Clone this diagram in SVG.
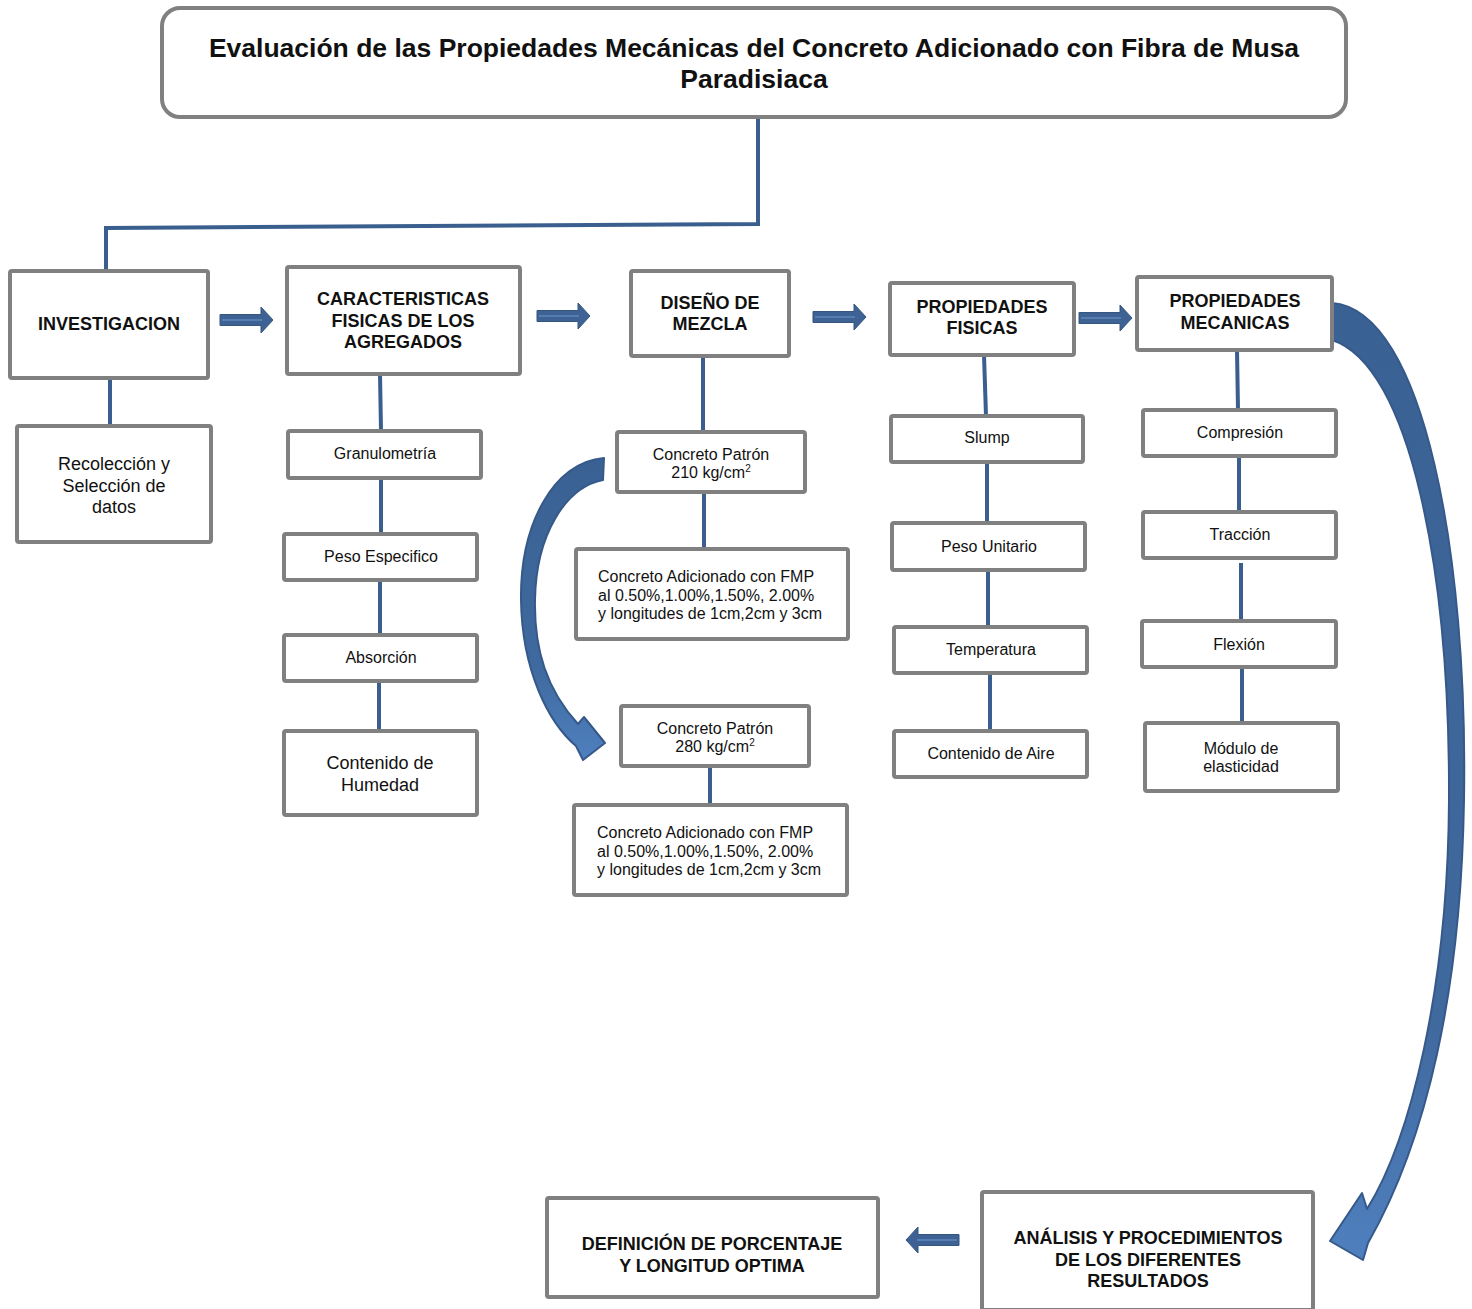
<svg xmlns="http://www.w3.org/2000/svg" xmlns:xlink="http://www.w3.org/1999/xlink" width="1472" height="1309" viewBox="0 0 1472 1309">
<style>
.box{fill:#fff;stroke:#808080;stroke-width:4}
.t{font-family:"Liberation Sans",Arial,sans-serif;fill:#111;text-anchor:middle}
.b18{font-size:18px;font-weight:bold}
.r18{font-size:18px}
.r16{font-size:16px}
.ttl{font-size:26.5px;font-weight:bold}
.l{text-anchor:start}
.con{fill:none;stroke:#3A5F8F;stroke-width:4}
.ba{fill:#3D6293;stroke:#34567F;stroke-width:1}
.bl{fill:none;stroke:#6F98CC;stroke-width:1.2}
.sup{font-size:10px}
</style>
<defs>
<path id="barrow" d="M0 -5.5 H41 V-13 L53 0 L41 13 V5.5 H0 Z"/>
<linearGradient id="g1" x1="0" y1="0" x2="0" y2="1">
<stop offset="0" stop-color="#3A6193"/>
<stop offset="0.7" stop-color="#3F6A9F"/>
<stop offset="1" stop-color="#4F80BE"/>
</linearGradient>
<linearGradient id="g2" x1="0" y1="0" x2="0" y2="1">
<stop offset="0" stop-color="#3A6193"/>
<stop offset="0.75" stop-color="#40699E"/>
<stop offset="1" stop-color="#4F80BE"/>
</linearGradient>
</defs>

<g id="connectors">
<path class="con" d="M758 117 V224 L106 228 V271"/>
<path class="con" d="M110 378 V426"/>
<path class="con" d="M380 374 L381 431"/>
<path class="con" d="M381 478 V534"/>
<path class="con" d="M380 580 V635"/>
<path class="con" d="M379 681 V731"/>
<path class="con" d="M703 356 V432"/>
<path class="con" d="M704 492 V549"/>
<path class="con" d="M710 766 V805"/>
<path class="con" d="M984 355 L986 416"/>
<path class="con" d="M987 462 V523"/>
<path class="con" d="M988 570 V627"/>
<path class="con" d="M990 673 V731"/>
<path class="con" d="M1237 350 L1238 410"/>
<path class="con" d="M1239 456 V512"/>
<path class="con" d="M1241 563 V621"/>
<path class="con" d="M1242 667 V723"/>
<g id="block-arrows">
<use href="#barrow" xlink:href="#barrow" class="ba" transform="translate(220 320)"/>
<path class="bl" d="M222 320 H262"/>
<use href="#barrow" xlink:href="#barrow" class="ba" transform="translate(537 316)"/>
<path class="bl" d="M539 316 H579"/>
<use href="#barrow" xlink:href="#barrow" class="ba" transform="translate(813 317)"/>
<path class="bl" d="M815 317 H855"/>
<use href="#barrow" xlink:href="#barrow" class="ba" transform="translate(1079 318)"/>
<path class="bl" d="M1081 318 H1121"/>
<use href="#barrow" xlink:href="#barrow" class="ba" transform="translate(959 1240) scale(-1 1)"/>
<path class="bl" d="M957 1240 H917"/>
</g>
<path id="curve-left" d="M604 458 C553 462 520 525 521 600 C522 670 548 722 576 746 L583 760 L605 743 L584 717 L578 724 C547 690 534 650 535 600 C536 534 566 487 603 480 Z" fill="url(#g1)" stroke="#36598A" stroke-width="2" stroke-linejoin="round"/>
<path id="curve-right" d="M1332 303 C1425 310 1468 560 1464 800 C1461 990 1427 1140 1368 1243 L1363 1260 L1330 1241 L1362 1193 L1367 1209 C1410 1140 1448 990 1449 800 C1450 570 1410 365 1332 340 Z" fill="url(#g2)" stroke="#36598A" stroke-width="2" stroke-linejoin="round"/>
</g>

<g id="title">
<rect class="box" x="162" y="8" width="1184" height="109" rx="18"/>
<text class="t ttl" x="754" y="57">Evaluación de las Propiedades Mecánicas del Concreto Adicionado con Fibra de Musa</text>
<text class="t ttl" x="754" y="88">Paradisiaca</text>
</g>

<g id="investigacion">
<rect class="box" x="10" y="271" width="198" height="107" rx="2"/>
<text class="t b18" x="109" y="330">INVESTIGACION</text>
</g>
<g id="recoleccion">
<rect class="box" x="17" y="426" width="194" height="116" rx="2"/>
<text class="t r18" x="114" y="470">Recolección y</text>
<text class="t r18" x="114" y="492">Selección de</text>
<text class="t r18" x="114" y="513">datos</text>
</g>

<g id="caracteristicas">
<rect class="box" x="287" y="267" width="233" height="107" rx="2"/>
<text class="t b18" x="403" y="305">CARACTERISTICAS</text>
<text class="t b18" x="403" y="327">FISICAS DE LOS</text>
<text class="t b18" x="403" y="348">AGREGADOS</text>
</g>
<g id="granulometria">
<rect class="box" x="288" y="431" width="193" height="47" rx="2"/>
<text class="t r16" x="385" y="459">Granulometría</text>
</g>
<g id="peso-especifico">
<rect class="box" x="284" y="534" width="193" height="46" rx="2"/>
<text class="t r16" x="381" y="562">Peso Especifico</text>
</g>
<g id="absorcion">
<rect class="box" x="284" y="635" width="193" height="46" rx="2"/>
<text class="t r16" x="381" y="663">Absorción</text>
</g>
<g id="humedad">
<rect class="box" x="284" y="731" width="193" height="84" rx="2"/>
<text class="t r18" x="380" y="769">Contenido de</text>
<text class="t r18" x="380" y="791">Humedad</text>
</g>

<g id="diseno">
<rect class="box" x="631" y="271" width="158" height="85" rx="2"/>
<text class="t b18" x="710" y="309">DISEÑO DE</text>
<text class="t b18" x="710" y="330">MEZCLA</text>
</g>
<g id="patron-210">
<rect class="box" x="617" y="432" width="188" height="60" rx="2"/>
<text class="t r16" x="711" y="460">Concreto Patrón</text>
<text class="t r16" x="711" y="478">210 kg/cm<tspan class="sup" dy="-6">2</tspan></text>
</g>
<g id="adicionado-1">
<rect class="box" x="576" y="549" width="272" height="90" rx="2"/>
<text class="t r16 l" x="598" y="582">Concreto Adicionado con FMP</text>
<text class="t r16 l" x="598" y="601">al 0.50%,1.00%,1.50%, 2.00%</text>
<text class="t r16 l" x="598" y="619">y longitudes de 1cm,2cm y 3cm</text>
</g>
<g id="patron-280">
<rect class="box" x="621" y="706" width="188" height="60" rx="2"/>
<text class="t r16" x="715" y="734">Concreto Patrón</text>
<text class="t r16" x="715" y="752">280 kg/cm<tspan class="sup" dy="-6">2</tspan></text>
</g>
<g id="adicionado-2">
<rect class="box" x="574" y="805" width="273" height="90" rx="2"/>
<text class="t r16 l" x="597" y="838">Concreto Adicionado con FMP</text>
<text class="t r16 l" x="597" y="857">al 0.50%,1.00%,1.50%, 2.00%</text>
<text class="t r16 l" x="597" y="875">y longitudes de 1cm,2cm y 3cm</text>
</g>

<g id="prop-fisicas">
<rect class="box" x="890" y="283" width="184" height="72" rx="2"/>
<text class="t b18" x="982" y="313">PROPIEDADES</text>
<text class="t b18" x="982" y="334">FISICAS</text>
</g>
<g id="slump">
<rect class="box" x="891" y="416" width="192" height="46" rx="2"/>
<text class="t r16" x="987" y="443">Slump</text>
</g>
<g id="peso-unitario">
<rect class="box" x="892" y="523" width="193" height="47" rx="2"/>
<text class="t r16" x="989" y="552">Peso Unitario</text>
</g>
<g id="temperatura">
<rect class="box" x="894" y="627" width="193" height="46" rx="2"/>
<text class="t r16" x="991" y="655">Temperatura</text>
</g>
<g id="aire">
<rect class="box" x="894" y="731" width="193" height="46" rx="2"/>
<text class="t r16" x="991" y="759">Contenido de Aire</text>
</g>

<g id="prop-mecanicas">
<rect class="box" x="1137" y="277" width="195" height="73" rx="2"/>
<text class="t b18" x="1235" y="307">PROPIEDADES</text>
<text class="t b18" x="1235" y="329">MECANICAS</text>
</g>
<g id="compresion">
<rect class="box" x="1143" y="410" width="193" height="46" rx="2"/>
<text class="t r16" x="1240" y="438">Compresión</text>
</g>
<g id="traccion">
<rect class="box" x="1143" y="512" width="193" height="46" rx="2"/>
<text class="t r16" x="1240" y="540">Tracción</text>
</g>
<g id="flexion">
<rect class="box" x="1142" y="621" width="194" height="46" rx="2"/>
<text class="t r16" x="1239" y="650">Flexión</text>
</g>
<g id="modulo">
<rect class="box" x="1145" y="723" width="193" height="68" rx="2"/>
<text class="t r16" x="1241" y="754">Módulo de</text>
<text class="t r16" x="1241" y="772">elasticidad</text>
</g>

<g id="analisis">
<rect class="box" x="982" y="1192" width="331" height="118" rx="2"/>
<text class="t b18" x="1148" y="1244">ANÁLISIS Y PROCEDIMIENTOS</text>
<text class="t b18" x="1148" y="1266">DE LOS DIFERENTES</text>
<text class="t b18" x="1148" y="1287">RESULTADOS</text>
</g>
<g id="definicion">
<rect class="box" x="547" y="1198" width="331" height="99" rx="2"/>
<text class="t b18" x="712" y="1250">DEFINICIÓN DE PORCENTAJE</text>
<text class="t b18" x="712" y="1272">Y LONGITUD OPTIMA</text>
</g>
</svg>
